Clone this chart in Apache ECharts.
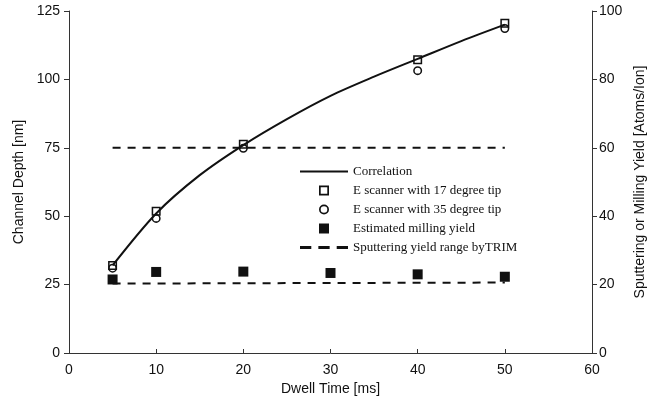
<!DOCTYPE html>
<html>
<head>
<meta charset="utf-8">
<script src="https://cdn.jsdelivr.net/npm/echarts@6/dist/echarts.min.js"></script>
<style>
html, body { margin: 0; padding: 0; background: #fff; }
#chart { width: 657px; height: 407px; }
</style>
</head>
<body>
<div id="chart"></div>
<script>
// dwell times (ms) and channel depths (nm)
var tipTimes = [5, 10, 20, 40, 50];
var tip17Depth = [32, 51.8, 76.3, 107.2, 120.5];
var tip35Depth = [31, 49.2, 74.8, 103.2, 118.6];

var corrTimes = [5, 10, 15, 20, 25, 30, 35, 40, 45, 50];
var corrDepth = [32, 51, 65, 76, 85.5, 94, 101, 107.5, 114, 120];

// milling yield on the right axis (atoms/ion)
var millTimes = [5, 10, 20, 30, 40, 50];
var millYield = [21.5, 23.7, 23.8, 23.4, 23.0, 22.3];

// TRIM sputtering yield range (two horizontal limits)
var trimTimes = [5, 50];
var trimHigh = [60, 60];
var trimLow = [20.3, 20.6];

function pairs(xs, ys) {
    return xs.map(function (x, i) { return [x, ys[i]]; });
}

var hollowSquare = 'path://M0,0H10V10H0ZM1.7,1.7V8.3H8.3V1.7Z';
var hollowCircle = 'path://M5,0A5,5 0 1,1 5,10A5,5 0 1,1 5,0ZM5,1.7A3.3,3.3 0 1,0 5,8.3A3.3,3.3 0 1,0 5,1.7Z';
var filledSquare = 'path://M0,0H10V10H0Z';
var solidIcon = 'path://M0,0H48V2H0Z';
var dashIcon = 'path://M0,0H8V2H0ZM13,0H21V2H13ZM26,0H34V2H26Z';

var sans = 'Liberation Sans, Arial, sans-serif';
var serif = 'Liberation Serif, Times New Roman, serif';

var myChart = echarts.init(document.getElementById('chart'));

var option = {
    animation: false,
    backgroundColor: '#fff',
    grid: { left: 69, right: 65, top: 11, bottom: 54 },
    legend: {
        orient: 'vertical',
        left: 295,
        top: 160,
        itemWidth: 48,
        itemHeight: 10,
        itemGap: 6,
        textStyle: { fontFamily: serif, fontSize: 13, lineHeight: 12, color: '#111' },
        data: [
            { name: 'Correlation', icon: solidIcon },
            { name: 'E scanner with 17 degree tip', icon: hollowSquare },
            { name: 'E scanner with 35 degree tip', icon: hollowCircle },
            { name: 'Estimated milling yield', icon: filledSquare },
            { name: 'Sputtering yield range byTRIM', icon: dashIcon }
        ]
    },
    xAxis: {
        type: 'value',
        min: 0, max: 60, interval: 10,
        name: 'Dwell Time [ms]',
        nameLocation: 'middle',
        nameGap: 28,
        nameTextStyle: { fontFamily: sans, fontSize: 14, color: '#111' },
        axisLine: { lineStyle: { color: '#333', width: 1 } },
        axisTick: { inside: true, length: 4, lineStyle: { color: '#333' } },
        axisLabel: { fontFamily: sans, fontSize: 14, color: '#111', margin: 10 },
        splitLine: { show: false }
    },
    yAxis: [{
        type: 'value',
        min: 0, max: 125, interval: 25,
        name: 'Channel Depth [nm]',
        nameLocation: 'middle',
        nameRotate: 90,
        nameGap: 40,
        nameTextStyle: { fontFamily: sans, fontSize: 14, color: '#111' },
        axisLine: { show: true, lineStyle: { color: '#333', width: 1 } },
        axisTick: { show: true, length: 5, lineStyle: { color: '#333' } },
        axisLabel: { fontFamily: sans, fontSize: 14, color: '#111', margin: 9 },
        splitLine: { show: false }
    }, {
        type: 'value',
        position: 'right',
        min: 0, max: 100, interval: 20,
        name: 'Sputtering or Milling Yield [Atoms/Ion]',
        nameLocation: 'middle',
        nameRotate: 90,
        nameGap: 37,
        nameTextStyle: { fontFamily: sans, fontSize: 14, color: '#111' },
        axisLine: { show: true, lineStyle: { color: '#333', width: 1 } },
        axisTick: { show: true, length: 5, lineStyle: { color: '#333' } },
        axisLabel: { fontFamily: sans, fontSize: 14, color: '#111', margin: 7 },
        splitLine: { show: false }
    }],
    series: [{
        name: 'Sputtering yield range byTRIM',
        type: 'line',
        yAxisIndex: 1,
        symbol: 'none',
        data: pairs(trimTimes, trimHigh),
        itemStyle: { color: '#111' },
        lineStyle: { color: '#111', width: 2, type: [8, 7] }
    }, {
        name: 'Sputtering yield range byTRIM',
        type: 'line',
        yAxisIndex: 1,
        symbol: 'none',
        data: pairs(trimTimes, trimLow),
        itemStyle: { color: '#111' },
        lineStyle: { color: '#111', width: 2, type: [8, 7] }
    }, {
        name: 'Correlation',
        type: 'line',
        smooth: 0.3,
        symbol: 'none',
        data: pairs(corrTimes, corrDepth),
        itemStyle: { color: '#111' },
        lineStyle: { color: '#111', width: 2 }
    }, {
        name: 'E scanner with 17 degree tip',
        type: 'scatter',
        symbol: hollowSquare,
        symbolSize: 9,
        data: pairs(tipTimes, tip17Depth),
        itemStyle: { color: '#111', opacity: 1 }
    }, {
        name: 'E scanner with 35 degree tip',
        type: 'scatter',
        symbol: hollowCircle,
        symbolSize: 9,
        data: pairs(tipTimes, tip35Depth),
        itemStyle: { color: '#111', opacity: 1 }
    }, {
        name: 'Estimated milling yield',
        type: 'scatter',
        yAxisIndex: 1,
        symbol: filledSquare,
        symbolSize: 10,
        data: pairs(millTimes, millYield),
        itemStyle: { color: '#111', opacity: 1 }
    }]
};

myChart.setOption(option);
</script>
</body>
</html>
